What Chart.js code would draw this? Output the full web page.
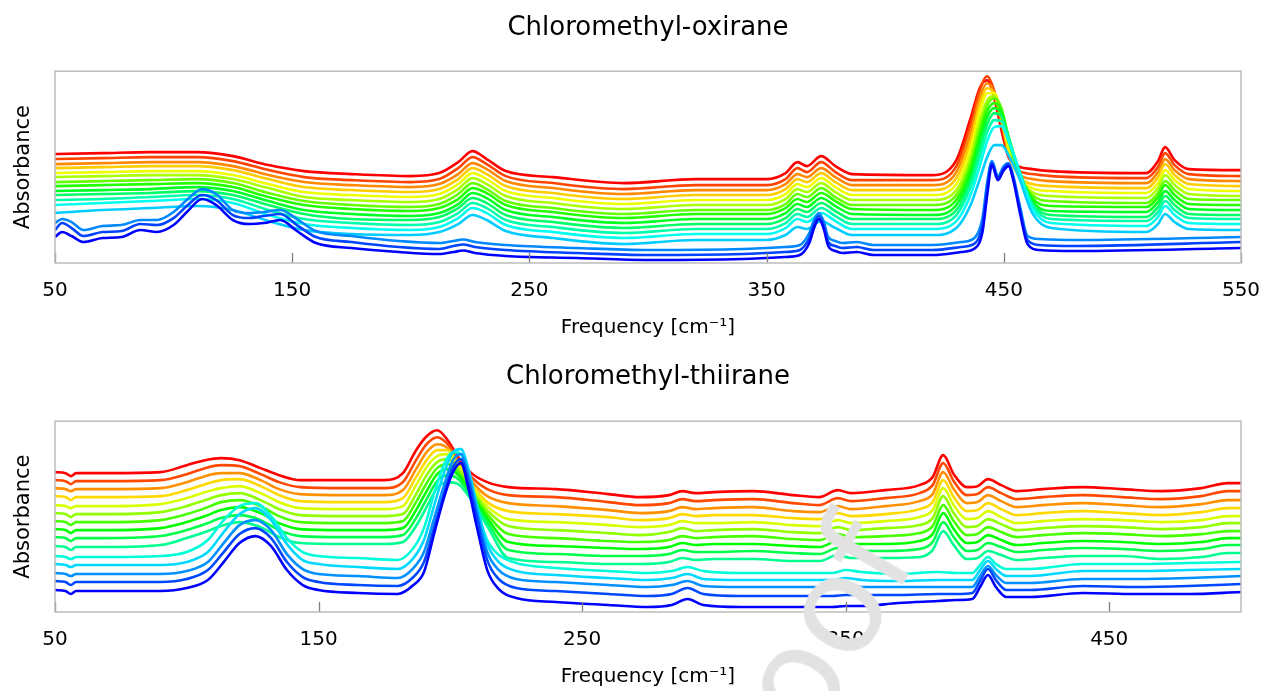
<!DOCTYPE html>
<html>
<head>
<meta charset="utf-8">
<title>Chloromethyl-oxirane / Chloromethyl-thiirane</title>
<script src="https://cdn.jsdelivr.net/npm/chart.js@4.4.1/dist/chart.umd.min.js"></script>
<style>
  html, body { margin: 0; padding: 0; background: #fff; }
  #wrap { position: relative; width: 1268px; height: 691px; overflow: hidden; }
  canvas { position: absolute; left: 0; }
  #c1 { top: 0; }
  #c2 { top: 345px; }
  .stamp {
    position: absolute; left: 619px; top: 612px; width: 350px; height: 135px;
    font-family: 'DejaVu Sans', sans-serif; font-size: 135px; line-height: 135px;
    color: #e2e2e2; white-space: nowrap; pointer-events: none;
    transform: rotate(-60deg); transform-origin: 50% 50%;
  }
</style>
</head>
<body>
<div id="wrap">
  <canvas id="c1" width="1268" height="345"></canvas>
  <canvas id="c2" width="1268" height="346"></canvas>
  <div class="stamp">Proof</div>
</div>
<script>
Chart.defaults.font.family = "'DejaVu Sans', sans-serif";

// ---- Chloromethyl-oxirane ----
const ticksOx = [50, 150, 250, 350, 450, 550];
// frequency grid for the upper (offset) spectra
const freqOx = [50, 70, 90, 110, 125, 140, 155, 175, 200, 212,
  220, 226, 232, 240, 260, 290, 320, 350, 358, 363,
  367, 373, 379, 386, 420, 430, 436, 440, 443, 446,
  449, 452, 456, 462, 470, 510, 515, 518, 522, 528, 550];
const ox15 = [109,110,111,111,107,98,92,89,87,90, 101,112,104,92,86,80,84,84,90,101, 97,107,97,89,88,103,145,176,183,165, 133,106,97,94,92,90,102,116,103,94, 93];
const ox14 = [104,105,106,106,102,93,86,83,81,84, 95,106,99,87,80,74,78,78,84,95, 91,101,91,83,83,97,139,174,187,172, 140,108,93,89,87,85,96,110,98,89, 87];
const ox13 = [99,100,101,101,97,88,81,78,76,79, 89,100,94,82,75,69,73,73,79,89, 86,95,86,78,78,91,130,167,180,170, 142,110,90,84,82,80,91,104,93,84, 82];
const ox12 = [95,96,97,97,93,84,76,73,71,74, 84,95,89,77,70,64,68,68,74,84, 81,90,81,73,73,85,122,160,175,169, 145,112,88,79,77,75,86,99,88,79, 77];
const ox11 = [90,91,92,92,88,79,71,68,66,69, 79,90,84,72,65,59,63,63,69,79, 76,85,76,68,68,79,114,152,170,170, 150,116,88,75,72,70,80,93,83,74, 72];
const ox10 = [86,87,88,88,84,75,66,63,61,64, 74,85,79,67,60,54,58,58,64,74, 71,80,71,63,63,73,106,143,163,167, 152,120,89,71,67,65,75,88,78,69, 67];
const ox9 = [81,82,83,84,80,70,62,58,56,59, 69,80,74,62,55,49,53,53,59,69, 66,75,66,58,58,68,100,136,158,165, 155,125,92,68,62,60,70,82,73,64, 63];
const ox8 = [77,78,79,80,76,66,58,54,52,55, 64,75,70,58,51,45,49,49,55,64, 61,70,62,54,53,63,94,129,152,160, 153,126,94,65,57,56,66,78,68,59, 58];
const ox7 = [72,73,74,76,72,62,53,49,47,50, 59,70,65,53,46,40,44,44,50,59, 56,65,57,49,48,58,88,122,146,155, 150,126,95,62,52,51,61,72,63,54, 53];
const ox6 = [68,69,70,72,68,58,49,44,43,46, 55,65,60,48,41,35,39,39,45,54, 51,60,52,44,44,53,82,115,139,150, 147,126,96,60,48,46,56,67,58,49, 48];
const ox5 = [63,64,66,68,64,53,44,40,38,41, 50,60,55,43,36,30,34,34,40,49, 46,55,47,39,39,48,76,107,131,143, 142,124,96,58,44,42,51,62,53,45, 44];
const ox4 = [58,60,62,64,60,48,39,35,33,36, 45,55,50,38,31,25,29,29,35,44, 41,50,42,34,34,42,68,98,122,136, 137,122,96,55,40,37,46,57,48,40, 39];
const ox3 = [50,53,55,57,53,42,33,29,28,31, 39,48,43,32,25,19,23,23,28,36, 34,42,35,28,28,35,58,85,106,118, 118,108,88,50,35,31,39,49,41,34, 33];
// frequency grid for the three lowest spectra
const freqOxLow = [50, 53, 57, 62, 70, 78, 86, 93, 100, 106,
  112, 118, 125, 132, 138, 145, 152, 160, 175, 195,
  212, 218, 222, 227, 240, 270, 300, 340, 358, 364,
  368, 370, 372, 374, 376, 379, 382, 388, 395, 420,
  432, 438, 441, 443, 445, 447.5, 450, 452, 454, 457,
  460, 465, 480, 550];
const ox2 = [40,44,41,33,37,38,43,43,51,64, 74,69,53,50,51,53,44,32,27,22, 20,22,23.5,21,18,15,13,14,16,18, 30,43,50,42,26,22,20,21,18,18, 21,26,45,81,102,87,97,100,87,55, 27,24,23,26];
const ox1 = [33,40,35,27,31,32,39,38,45,58, 68,63,48,45,47,49,38,26,21,16, 14,17,18.5,16,13,10,8,9,11,13, 25,39,47,38,21,17,15,16,13,13, 16,20,38,75,100,85,95,99,85,51, 23,18,17,21];
const ox0 = [26,31,27,21,25,26,33,31,38,52, 64,58,43,39,40,43,32,20,15,11, 9,11,12.5,10,7,5,3,4,6,8, 20,35,44,35,17,12,10,11,8,8, 11,15,31,68,98,83,93,97,83,48, 19,13,12,15];

// ---- Chloromethyl-thiirane ----
const ticksTh = [50, 150, 250, 350, 450];
const freqTh = [50, 54, 56, 58, 70, 90, 100, 107, 113, 120,
  128, 135, 143, 160, 175, 182, 187, 191, 195, 199,
  203, 208, 214, 222, 240, 260, 272, 283, 288, 293,
  300, 315, 330, 340, 347, 352, 365, 378, 383, 387,
  391, 396, 400, 404, 409, 415, 425, 440, 455, 470,
  485, 495, 500];
const th14 = [140,139,136,139,139,140,147,152,154,152, 144,137,132,132,132,139,162,176,182,172, 155,139,130,125,123,118,115,117,121,119, 120,121,117,115,122,119,122,127,135,157, 138,125,126,133,127,121,123,125,123,121, 124,129,129];
const th13 = [132,131,128,131,131,132,138,144,147,146, 138,130,125,124,124,130,152,168,175,168, 152,135,123,117,115,110,107,109,113,111, 112,113,109,107,114,111,114,119,127,149, 131,117,118,125,119,113,115,117,115,113, 116,121,121];
const th12 = [124,123,121,123,123,124,130,136,139,139, 132,123,118,117,117,122,143,160,168,164, 149,131,116,109,106,102,99,101,105,103, 104,105,101,100,106,103,106,111,118,140, 123,109,110,117,111,105,107,109,107,105, 108,112,112];
const th11 = [116,115,112,115,115,116,122,128,132,133, 126,117,111,110,110,114,135,152,162,162, 148,128,110,101,98,95,92,94,98,96, 97,97,94,93,99,96,98,103,110,132, 115,101,102,109,103,97,99,101,99,97, 100,104,104];
const th10 = [107,106,104,106,106,108,114,120,124,126, 119,110,104,103,103,106,127,145,156,158, 146,126,106,93,90,87,85,87,91,89, 89,90,87,86,92,89,91,95,102,124, 107,93,94,101,95,89,91,93,92,90, 92,96,96];
const th9 = [99,98,95,98,98,100,106,112,117,119, 112,103,97,96,96,98,118,137,150,153, 143,123,102,86,82,79,77,80,84,81, 82,83,80,79,85,82,84,87,94,116, 99,85,86,93,88,82,84,86,85,83, 85,89,89];
const th8 = [91,90,87,90,90,92,98,104,110,112, 106,96,90,89,89,91,110,129,144,148, 140,120,98,78,74,71,70,72,76,74, 75,76,73,72,78,75,76,79,86,107, 91,77,78,85,80,75,77,79,78,76, 78,81,81];
const th7 = [83,82,79,82,82,84,90,96,102,105, 99,89,83,82,82,84,102,121,138,143, 137,118,94,70,66,64,63,65,69,67, 68,68,66,65,71,68,68,71,78,99, 83,69,70,77,72,67,69,71,70,68, 70,74,74];
const th6 = [75,74,71,74,74,76,82,88,94,97, 92,82,76,75,75,77,94,113,131,137, 133,115,90,62,58,56,56,58,62,60, 60,61,59,58,64,61,61,63,70,90, 75,61,62,69,65,60,62,64,63,61, 63,67,67];
const th5 = [66,65,62,65,65,67,74,80,86,90, 85,75,69,68,68,70,86,105,124,130, 128,112,86,54,50,48,48,50,54,52, 53,53,51,51,57,54,54,55,62,81, 67,53,54,61,57,52,54,56,56,53, 55,59,59];
const freqThLow = [50, 54, 56, 58, 70, 90, 100, 108, 114, 120,
  126, 132, 138, 144, 150, 165, 180, 186, 190, 194,
  198, 201, 204, 207, 210, 214, 218, 225, 240, 260,
  275, 284, 290, 296, 310, 330, 345, 350, 356, 370,
  385, 392, 398, 401, 404, 407, 411, 420, 440, 460,
  480, 500];
const th4 = [56,55,53,55,55,56,60,72,92,106, 109,96,74,60,56,54,52,64,84,120, 150,160,158,136,104,72,58,49,44,41, 39,41,45,41,39,39,39,42,40,38, 40,39,39,47,55,48,43,43,48,48, 49,50];
const th3 = [48,47,45,47,47,47,50,60,80,98, 104,92,68,52,48,45,43,54,72,108, 142,160,163,142,108,68,51,41,37,34, 32,34,38,33,32,32,32,34,32,31, 32,32,32,42,51,43,36,36,41,41, 42,43];
const th2 = [39,38,36,38,38,38,41,50,69,87, 92,82,58,43,38,36,34,44,60,95, 130,152,158,136,102,60,43,33,30,27, 25,27,31,26,25,25,25,26,25,25, 25,25,25,36,46,37,29,29,33,33, 34,36];
const th1 = [31,30,27,30,30,30,33,42,60,78, 84,74,50,35,30,27,26,35,50,86, 122,145,153,130,96,52,34,24,21,18, 16,18,24,18,16,16,16,17,17,17, 18,18,19,31,43,32,22,22,26,25, 26,28];
const th0 = [22,21,18,21,21,21,24,32,50,69, 76,66,42,27,22,19,18,27,40,80, 118,140,149,122,86,42,24,14,10,7, 5,7,13,7,5,5,5,6,6,9, 11,12,13,25,37,25,15,15,19,18, 18,20];

// blue (lowest) -> red (highest) rainbow
function lineColor(i, n) {
  return 'hsl(' + Math.round(240 * (1 - i / (n - 1))) + ',100%,50%)';
}

function spectrum(freq, vals, i, n) {
  return {
    data: freq.map((f, k) => ({ x: f, y: vals[k] })),
    borderColor: lineColor(i, n),
    borderWidth: 2.6,
    pointRadius: 0,
    fill: false,
    cubicInterpolationMode: 'monotone'
  };
}

// inward tick marks + light frame around the plot area
const framePlugin = {
  id: 'frame',
  afterDraw(chart) {
    const { ctx, chartArea: a } = chart;
    const x = chart.scales.x;
    ctx.save();
    ctx.strokeStyle = '#808080';
    ctx.lineWidth = 1.3;
    x.ticks.forEach(t => {
      const px = Math.round(x.getPixelForValue(t.value)) + 0.5;
      ctx.beginPath();
      ctx.moveTo(px, a.bottom);
      ctx.lineTo(px, a.bottom - 10);
      ctx.stroke();
    });
    ctx.strokeStyle = '#bcbcbc';
    ctx.lineWidth = 1.5;
    ctx.strokeRect(a.left, a.top, a.right - a.left, a.bottom - a.top);
    ctx.restore();
  }
};

function makeChart(id, title, datasets, xmin, xmax, ticks, ymax, lay) {
  return new Chart(document.getElementById(id), {
    type: 'line',
    data: { datasets },
    options: {
      responsive: false,
      animation: false,
      devicePixelRatio: 1,
      layout: { padding: { left: 0, right: 27, top: 0, bottom: 0 } },
      plugins: {
        legend: { display: false },
        tooltip: { enabled: false },
        title: {
          display: true, text: title, color: '#000', fullSize: false,
          font: { size: 26, weight: 'normal' },
          padding: { top: lay.titleTop, bottom: lay.titleBottom }
        }
      },
      scales: {
        x: {
          type: 'linear', min: xmin, max: xmax,
          afterBuildTicks: ax => { ax.ticks = ticks.map(v => ({ value: v })); },
          afterFit: ax => { ax.height = lay.xHeight; ax.paddingLeft = 0; ax.paddingRight = 0; },
          grid: { display: false, drawTicks: false },
          border: { display: false },
          ticks: { color: '#000', font: { size: 20 }, padding: 16, maxRotation: 0, autoSkip: false },
          title: {
            display: true, text: 'Frequency [cm\u207B\u00B9]', color: '#000',
            font: { size: 20 }, padding: { top: 0, bottom: lay.xTitle }
          }
        },
        y: {
          min: 0, max: ymax,
          afterFit: ax => { ax.width = 55; },
          grid: { display: false, drawTicks: false },
          border: { display: false },
          ticks: { display: false },
          title: {
            display: true, text: 'Absorbance', color: '#000',
            font: { size: 21 }, padding: { top: 11, bottom: 0 }
          }
        }
      }
    },
    plugins: [framePlugin]
  });
}

const oxLow = [ox0, ox1, ox2];
const oxUp = [ox3, ox4, ox5, ox6, ox7, ox8, ox9, ox10, ox11, ox12, ox13, ox14, ox15];
const oxSets = [];
oxLow.forEach((v, i) => oxSets.push(spectrum(freqOxLow, v, i, 16)));
oxUp.forEach((v, i) => oxSets.push(spectrum(freqOx, v, i + 3, 16)));

const thLow = [th0, th1, th2, th3, th4];
const thUp = [th5, th6, th7, th8, th9, th10, th11, th12, th13, th14];
const thSets = [];
thLow.forEach((v, i) => thSets.push(spectrum(freqThLow, v, i, 15)));
thUp.forEach((v, i) => thSets.push(spectrum(freqTh, v, i + 5, 15)));

makeChart('c1', 'Chloromethyl-oxirane', oxSets, 50, 550, ticksOx, 192,
  { titleTop: 13, titleBottom: 27, xHeight: 82, xTitle: 5 });
makeChart('c2', 'Chloromethyl-thiirane', thSets, 50, 500, ticksTh, 191,
  { titleTop: 17, titleBottom: 28, xHeight: 79, xTitle: 2 });
</script>
</body>
</html>
